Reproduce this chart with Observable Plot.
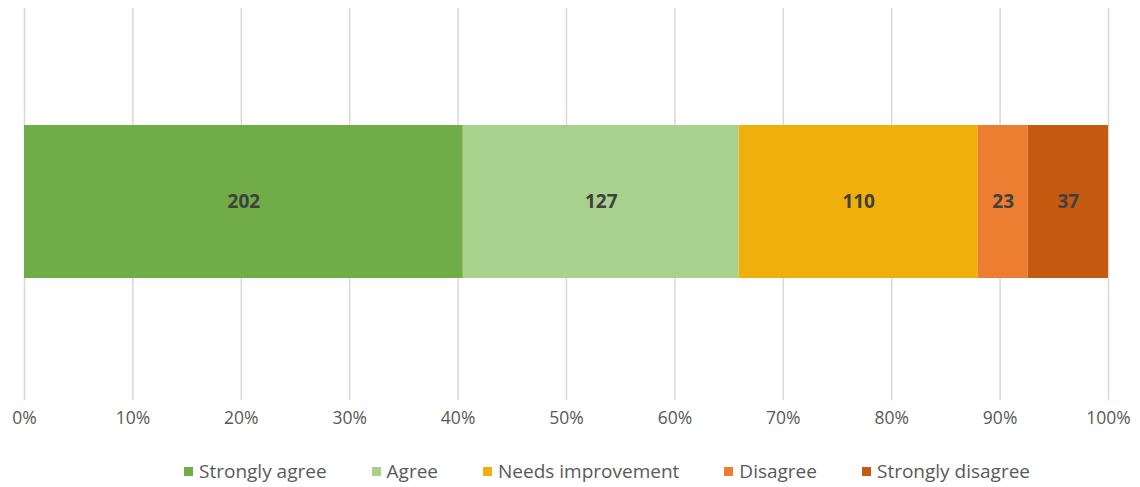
<!DOCTYPE html>
<html>
<head>
<meta charset="utf-8">
<script src="https://cdn.jsdelivr.net/npm/d3@7"></script>
<script src="https://cdn.jsdelivr.net/npm/@observablehq/plot@0.6"></script>
<style>
  body { margin: 0; background: #fff; font-family: "Open Sans", sans-serif; }
  #legend { display: flex; align-items: center; height: 22px; margin-top: 20px; padding-left: 184px; gap: 45px; font-size: 19px; color: #595959; white-space: nowrap; }
  #legend .item { display: flex; align-items: center; }
  #legend .sw { width: 9px; height: 9px; margin-right: 6px; }
</style>
</head>
<body>
<div id="chart"></div>
<div id="legend"></div>
<script>
const categories = ["Strongly agree", "Agree", "Needs improvement", "Disagree", "Strongly disagree"];
const counts = [202, 127, 110, 23, 37];
const colors = ["#70AD47", "#A9D18E", "#F0B00C", "#ED7D31", "#C55A11"];
const tickValues = [0, 0.1, 0.2, 0.3, 0.4, 0.5, 0.6, 0.7, 0.8, 0.9, 1.0];

const data = categories.map((c, i) => ({ category: c, count: counts[i], row: "Responses" }));

const stackOpts = { x: "count", y: "row", fill: "category", order: categories, offset: "normalize" };
const pct = d => Math.round(d * 100) + "%";

const plot = Plot.plot({
  width: 1140,
  height: 440,
  marginLeft: 24,
  marginRight: 32,
  marginTop: 8,
  marginBottom: 40,
  style: { fontFamily: "'Open Sans', sans-serif", fontSize: "17.5px", color: "#595959", background: "#fff" },
  x: { domain: [0, 1], ticks: tickValues, tickFormat: pct, label: null },
  y: { domain: ["Responses"], padding: 0.4385, align: 0.49, axis: null },
  color: { domain: categories, range: colors },
  marks: [
    Plot.gridX(tickValues, { stroke: "#d9d9d9", strokeOpacity: 1, strokeWidth: 1.5 }),
    Plot.axisX(tickValues, { tickSize: 0, tickPadding: 11, label: null, tickFormat: pct, fill: "#595959" }),
    Plot.barX(data, Plot.stackX(stackOpts)),
    Plot.text(data, Plot.stackX({ ...stackOpts, fill: null, z: "category", text: d => String(d.count) }))
  ]
});
document.getElementById("chart").appendChild(plot);

plot.querySelectorAll("g[aria-label='text'] text").forEach(t => {
  t.setAttribute("fill", "#404040");
  t.setAttribute("font-weight", "bold");
  t.setAttribute("font-size", "19px");
});

const legend = document.getElementById("legend");
categories.forEach((c, i) => {
  const it = document.createElement("div");
  it.className = "item";
  const sw = document.createElement("span");
  sw.className = "sw";
  sw.style.background = colors[i];
  const lb = document.createElement("span");
  lb.textContent = c;
  it.appendChild(sw);
  it.appendChild(lb);
  legend.appendChild(it);
});
</script>
</body>
</html>
